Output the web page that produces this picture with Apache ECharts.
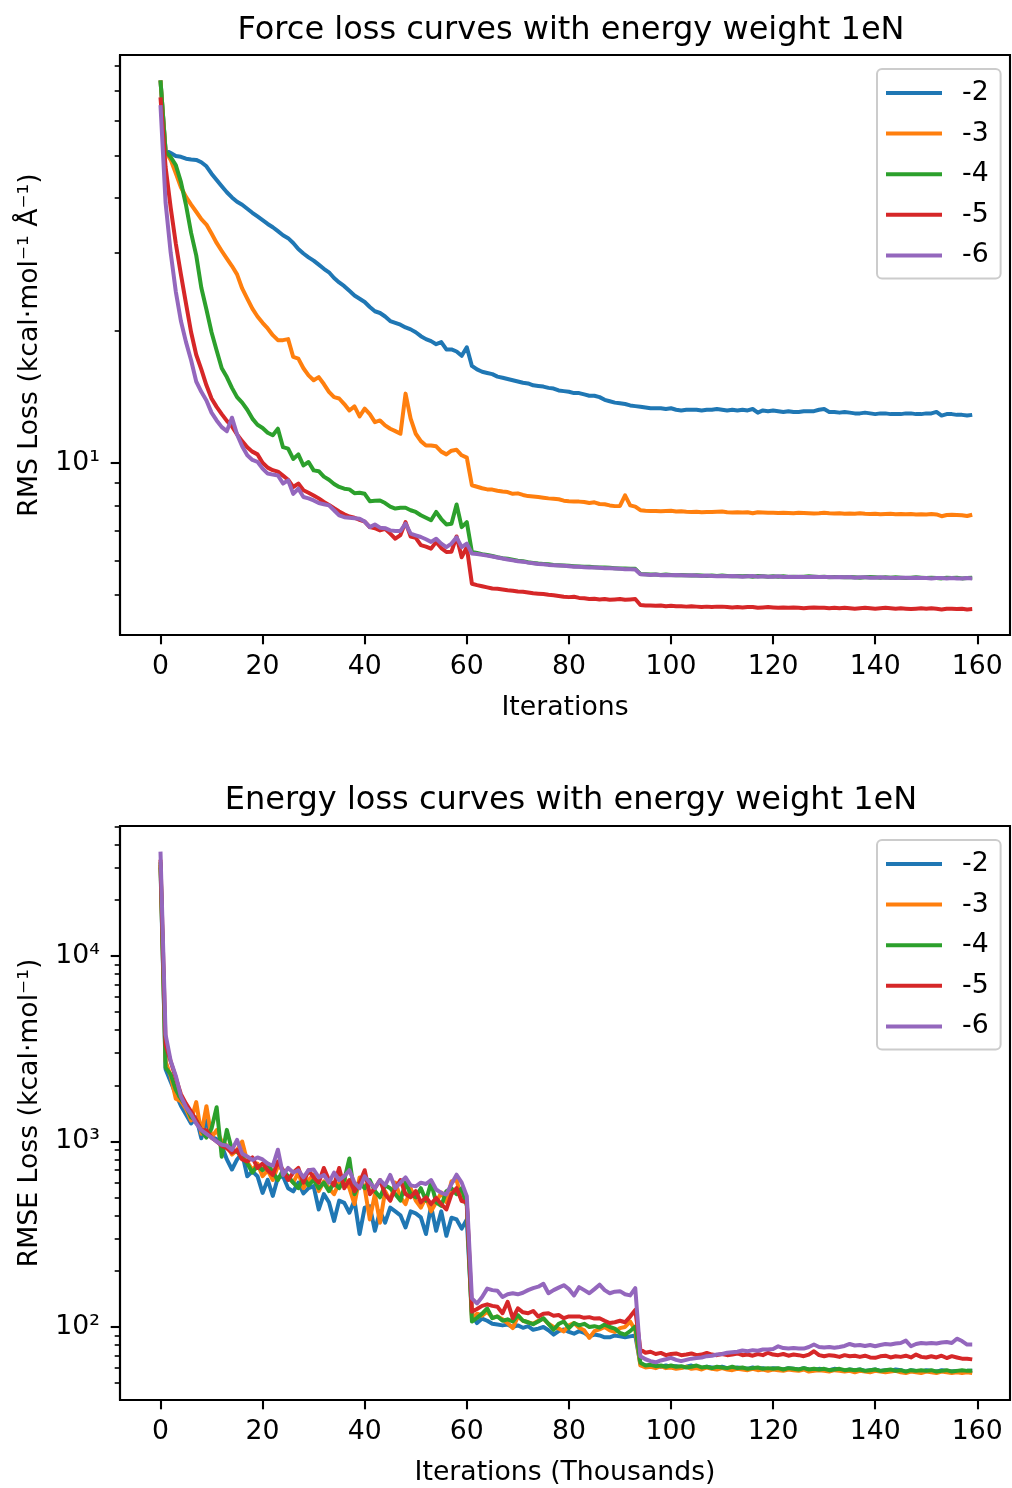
<!DOCTYPE html>
<html>
<head>
<meta charset="utf-8">
<title>Loss curves</title>
<script src="https://cdn.jsdelivr.net/npm/echarts@6.0.0/dist/echarts.min.js"></script>
<style>
  html, body { margin: 0; padding: 0; background: #fff; }
  #chart { width: 1012px; height: 1488px; }
</style>
</head>
<body>
<div id="chart"></div>
<script>
// series names (energy weight exponent) and matplotlib tab10 colours
const seriesNames = ['-2', '-3', '-4', '-5', '-6'];
const colors = ['#1f77b4', '#ff7f0e', '#2ca02c', '#d62728', '#9467bd'];

// x axis ticks (iterations)
const xTicks = [0, 20, 40, 60, 80, 100, 120, 140, 160];

// y axis ticks
const forceMajorTicks = [10];
const forceMinorTicks = [5, 6, 7, 8, 9, 20, 30, 40, 50, 60, 70, 80];
const energyMajorTicks = [100, 1000, 10000];
const energyMinorTicks = [50, 60, 70, 80, 90, 200, 300, 400, 500, 600, 700, 800, 900,
  2000, 3000, 4000, 5000, 6000, 7000, 8000, 9000, 20000, 30000, 40000, 50000];

// ---- force loss (RMS), one value per iteration 0..159 ----
const forceM2 = [
  74.0, 51.3, 50.6, 49.8, 49.6, 49.1, 48.9, 48.8, 48.2, 47.2,
  45.4, 43.9, 42.5, 41.2, 40.1, 39.2, 38.6, 37.8, 37.0, 36.3,
  35.6, 34.9, 34.3, 33.6, 32.9, 32.4, 31.6, 30.6, 29.9, 29.3,
  28.8, 28.2, 27.6, 27.1, 26.3, 25.7, 25.2, 24.6, 24.0, 23.6,
  23.2, 22.6, 22.1, 21.9, 21.5, 21.0, 20.8, 20.6, 20.3, 20.1,
  19.8, 19.4, 19.1, 18.9, 18.6, 18.8, 18.1, 18.1, 17.9, 17.5,
  18.3, 16.6, 16.3, 16.1, 16.0, 15.9, 15.7, 15.6, 15.5, 15.4,
  15.3, 15.2, 15.15, 15.0, 14.95, 14.9, 14.8, 14.75, 14.6, 14.55,
  14.5, 14.4, 14.4, 14.3, 14.2, 14.2, 14.1, 13.9, 13.8, 13.7,
  13.65, 13.6, 13.5, 13.45, 13.4, 13.35, 13.3, 13.3, 13.3, 13.25,
  13.3, 13.2, 13.15, 13.2, 13.2, 13.2, 13.15, 13.2, 13.2, 13.25,
  13.2, 13.15, 13.2, 13.15, 13.2, 13.15, 13.25, 13.0, 13.15, 13.1,
  13.15, 13.1, 13.05, 13.1, 13.05, 13.05, 13.1, 13.1, 13.1, 13.2,
  13.25, 13.05, 13.05, 13.0, 13.05, 13.0, 12.95, 12.95, 13.0, 12.95,
  12.9, 12.95, 12.95, 12.9, 12.9, 12.9, 12.95, 12.95, 12.9, 12.9,
  12.95, 12.95, 13.05, 12.8, 12.9, 12.9, 12.85, 12.85, 12.8, 12.85
];
const forceM3 = [
  74.0, 51.0, 48.8, 45.5, 42.3, 40.2, 38.6, 37.2, 35.8, 34.8,
  33.2, 31.6, 30.3, 29.1, 28.0, 26.8, 24.9, 23.6, 22.4, 21.5,
  20.8, 20.2, 19.5, 19.0, 19.0, 19.1, 17.4, 17.25, 16.4, 15.8,
  15.4, 15.66, 15.1, 14.5, 14.1, 14.0, 13.6, 13.15, 13.43, 12.75,
  13.27, 12.9, 12.37, 12.48, 12.16, 11.95, 11.8, 11.64, 14.36, 12.6,
  11.64, 11.2, 10.95, 10.95, 10.9, 10.6, 10.45, 10.65, 10.7, 10.4,
  10.27, 8.89, 8.82, 8.75, 8.7, 8.69, 8.64, 8.6, 8.58, 8.5,
  8.52, 8.45, 8.4, 8.38, 8.36, 8.33, 8.3, 8.28, 8.26, 8.2,
  8.18, 8.17, 8.16, 8.14, 8.1, 8.13, 8.06, 8.05, 8.0, 7.97,
  7.98, 8.43, 8.0, 7.95, 7.8, 7.78, 7.77, 7.77, 7.76, 7.77,
  7.78, 7.75, 7.76, 7.74, 7.73, 7.74, 7.72, 7.73, 7.73, 7.74,
  7.75, 7.72, 7.71, 7.72, 7.71, 7.72, 7.68, 7.72, 7.71, 7.7,
  7.7, 7.69, 7.7, 7.69, 7.68, 7.7, 7.69, 7.68, 7.67, 7.68,
  7.7, 7.68, 7.67, 7.68, 7.66, 7.67, 7.66, 7.68, 7.66, 7.65,
  7.66, 7.64, 7.65, 7.66, 7.64, 7.65, 7.64, 7.65, 7.63, 7.64,
  7.63, 7.65, 7.63, 7.56, 7.61, 7.62, 7.61, 7.6, 7.57, 7.62
];
const forceM4 = [
  74.0, 51.0, 49.5, 47.5, 43.5, 38.5, 33.3, 29.6, 25.0, 22.3,
  19.8, 18.0, 16.4, 15.66, 14.8, 14.1, 13.7, 13.2, 12.6, 12.2,
  12.0, 11.7, 11.55, 11.95, 10.85, 10.77, 10.2, 10.45, 9.86, 10.04,
  9.61, 9.57, 9.3, 9.15, 8.95, 8.81, 8.73, 8.7, 8.53, 8.55,
  8.5, 8.18, 8.2, 8.21, 8.1, 7.95, 7.87, 7.9, 7.9, 7.8,
  7.73, 7.6, 7.5, 7.4, 7.73, 7.45, 7.24, 7.27, 8.04, 7.14,
  7.33, 6.27, 6.24, 6.2, 6.17, 6.14, 6.1, 6.07, 6.05, 6.02,
  5.99, 5.97, 5.94, 5.92, 5.9, 5.89, 5.88, 5.86, 5.85, 5.84,
  5.83, 5.82, 5.81, 5.8, 5.8, 5.79, 5.78, 5.78, 5.77, 5.76,
  5.75, 5.75, 5.74, 5.74, 5.59, 5.58, 5.57, 5.57, 5.56, 5.57,
  5.56, 5.55, 5.56, 5.55, 5.54, 5.55, 5.54, 5.53, 5.54, 5.53,
  5.54, 5.53, 5.52, 5.53, 5.52, 5.53, 5.51, 5.53, 5.52, 5.51,
  5.52, 5.51, 5.52, 5.5, 5.51, 5.5, 5.51, 5.52, 5.51, 5.5,
  5.51, 5.49, 5.5, 5.5, 5.49, 5.5, 5.49, 5.48, 5.49, 5.5,
  5.49, 5.48, 5.49, 5.48, 5.49, 5.48, 5.47, 5.48, 5.49, 5.48,
  5.47, 5.48, 5.47, 5.46, 5.48, 5.47, 5.48, 5.46, 5.47, 5.48
];
const forceM5 = [
  67.7, 47.0, 38.0, 31.5, 26.8, 23.0, 19.8, 17.6, 16.3, 15.0,
  14.0, 13.4, 12.9, 12.45, 12.1, 11.6, 11.2, 10.85, 10.6, 10.45,
  10.0, 9.75, 9.62, 9.55, 9.35, 9.15, 8.81, 8.97, 8.66, 8.55,
  8.43, 8.3, 8.15, 8.02, 7.88, 7.75, 7.64, 7.55, 7.5, 7.42,
  7.35, 7.14, 7.1, 7.02, 7.08, 6.9, 6.72, 6.85, 7.33, 6.8,
  6.75, 6.5, 6.45, 6.38, 6.61, 6.4, 6.27, 6.28, 6.8, 6.1,
  6.43, 5.31, 5.27, 5.24, 5.21, 5.18, 5.17, 5.15, 5.13, 5.12,
  5.1, 5.09, 5.07, 5.05, 5.04, 5.03, 5.01, 5.0, 4.98, 4.96,
  4.95, 4.96, 4.93, 4.92, 4.9, 4.91, 4.89, 4.9, 4.88, 4.89,
  4.9, 4.88, 4.89, 4.9, 4.75, 4.74, 4.74, 4.73, 4.74, 4.72,
  4.73, 4.72, 4.72, 4.71, 4.72, 4.71, 4.7, 4.71, 4.7, 4.71,
  4.71, 4.7, 4.69, 4.7, 4.69, 4.7, 4.7, 4.68, 4.69, 4.7,
  4.69, 4.68, 4.69, 4.68, 4.69, 4.68, 4.67, 4.68, 4.69, 4.68,
  4.68, 4.67, 4.68, 4.67, 4.68, 4.67, 4.66, 4.67, 4.68, 4.67,
  4.66, 4.67, 4.68, 4.67, 4.66, 4.67, 4.66, 4.65, 4.66, 4.67,
  4.66, 4.67, 4.66, 4.64, 4.66, 4.66, 4.65, 4.66, 4.64, 4.65
];
const forceM6 = [
  65.0, 39.0, 30.0, 24.5, 21.0, 18.8, 17.1, 15.3, 14.5, 13.86,
  13.0, 12.48, 12.05, 11.8, 12.66, 11.6, 10.9, 10.4, 10.15, 10.05,
  9.7, 9.45, 9.4, 9.36, 8.97, 9.12, 8.5, 8.73, 8.36, 8.3,
  8.21, 8.1, 8.05, 8.0, 7.8, 7.59, 7.52, 7.5, 7.48, 7.46,
  7.35, 7.14, 7.24, 7.12, 7.1, 7.02, 7.0, 7.0, 7.27, 6.9,
  6.84, 6.78, 6.7, 6.61, 6.72, 6.55, 6.43, 6.55, 6.77, 6.43,
  6.55, 6.22, 6.2, 6.18, 6.15, 6.12, 6.09, 6.06, 6.03, 6.0,
  5.97, 5.96, 5.93, 5.91, 5.89, 5.88, 5.86, 5.85, 5.84, 5.83,
  5.82, 5.8, 5.8, 5.79, 5.78, 5.78, 5.77, 5.76, 5.76, 5.75,
  5.74, 5.73, 5.73, 5.72, 5.58, 5.57, 5.56, 5.57, 5.55, 5.56,
  5.55, 5.56, 5.55, 5.54, 5.55, 5.54, 5.53, 5.54, 5.53, 5.52,
  5.53, 5.52, 5.53, 5.52, 5.51, 5.52, 5.53, 5.51, 5.52, 5.51,
  5.51, 5.52, 5.5, 5.51, 5.5, 5.51, 5.5, 5.5, 5.51, 5.5,
  5.5, 5.5, 5.49, 5.5, 5.49, 5.5, 5.48, 5.49, 5.49, 5.48,
  5.48, 5.49, 5.48, 5.48, 5.47, 5.48, 5.48, 5.47, 5.48, 5.47,
  5.47, 5.46, 5.47, 5.47, 5.46, 5.47, 5.46, 5.46, 5.47, 5.46
];

// ---- energy loss (RMSE), one value per thousand iterations 0..159 ----
const energyM2 = [
  30000, 2450, 2100, 1800, 1560, 1400, 1250, 1350, 1040, 1300,
  1060, 1030, 950, 800, 706, 800, 863, 649, 690, 650,
  528, 622, 509, 640, 649, 560, 538, 600, 525, 560,
  575, 430, 520, 470, 373, 480, 467, 413, 480, 317,
  440, 448, 330, 420, 365, 440, 420, 400, 344, 420,
  410, 390, 317, 448, 330, 420, 310, 388, 380, 339,
  380, 116, 105, 111, 108, 104, 103, 102, 103, 100,
  102, 99, 101, 96.6, 98, 100, 96, 91, 95, 97,
  94, 92, 95, 93, 89, 91, 90, 88, 88, 90,
  89, 88, 89, 90, 63, 62, 61.5, 62.5, 61, 62,
  61, 61.5, 60.5, 61, 62, 60.5, 60, 61, 60.5, 60,
  61, 60, 59.5, 60.5, 60, 59.5, 60.5, 59.5, 60, 59,
  60, 59.5, 59, 60, 59.5, 59, 60, 59, 58.5, 59.5,
  59, 58.5, 59.5, 59, 58, 59, 58.5, 59, 58, 58.5,
  59, 58, 58.5, 58, 59, 58.5, 57.5, 58.5, 58, 57.5,
  58.5, 58, 57.5, 58.5, 58, 57.5, 58, 57.5, 58, 58
];
const energyM3 = [
  31000, 2700, 2250, 1700, 1650, 1500, 1300, 1630, 1100, 1550,
  1050, 1150, 1000, 950, 850, 900, 1000, 780, 700, 760,
  650, 700, 620, 740, 700, 640, 600, 680, 560, 620,
  660, 540, 610, 560, 520, 600, 640, 560, 460, 640,
  560, 380, 520, 365, 540, 480, 600, 500, 460, 560,
  480, 440, 500, 420, 470, 530, 470, 609, 622, 480,
  470, 111.5, 118, 115, 121, 112, 114, 110, 105, 98.6,
  113.8, 108, 106, 104, 108, 111, 104, 100, 98, 94.6,
  102, 105, 99, 96, 87.3, 95, 97, 100, 96, 94,
  98.6, 100, 107, 96, 62, 60.5, 61, 60, 61.5, 60,
  60.5, 59.5, 60, 61, 59.5, 60, 59, 60.5, 59.5, 59,
  60, 59, 58.5, 59.5, 59, 58.5, 59.5, 58.5, 59, 58,
  59, 58.5, 58, 59, 58.5, 58, 59, 57.5, 58, 58.5,
  58, 57.5, 58.5, 58, 57.5, 58, 57, 58, 57.5, 57,
  58, 57.5, 57, 57.5, 58, 57, 56.5, 57.5, 57, 56.5,
  57.5, 57, 56.5, 57.5, 57, 56.5, 57, 56.5, 57, 56.5
];
const energyM4 = [
  32000, 2500, 2300, 1900, 1700, 1550, 1350, 1300, 1150, 1050,
  1173, 1530, 828, 1155, 900, 880, 820, 760, 680, 740,
  700, 760, 680, 620, 700, 650, 600, 560, 640, 580,
  620, 560, 600, 540, 600, 560, 620, 810, 520, 600,
  560, 620, 540, 500, 580, 560, 520, 480, 600, 520,
  500, 560, 480, 600, 470, 450, 540, 560, 520, 560,
  450, 107, 112, 118, 126, 111.5, 114, 108, 110, 107,
  116, 108, 106, 103.6, 107, 111.5, 104, 96.6, 104, 107,
  98.6, 105, 102, 104, 100, 101, 99.4, 103, 100, 98,
  92.8, 91, 95, 100.6, 64.2, 62, 62.5, 61.5, 62, 61,
  62, 61, 61.5, 60.5, 61, 62, 60.5, 61, 60, 61,
  60.5, 60, 61, 60, 60.5, 59.5, 60, 60.5, 59.5, 60,
  59.5, 60, 59, 60, 59.5, 59, 60, 59, 59.5, 59,
  59.5, 58.5, 59, 59.5, 58.5, 59, 58.5, 59, 58, 58.5,
  59, 58, 58.5, 59, 58, 58.5, 57.5, 58.5, 58, 58.5,
  58, 58.5, 57.5, 58, 58.5, 57.5, 58, 58.5, 58, 58
];
const energyM5 = [
  33000, 3330, 2700, 2200, 1800, 1600, 1450, 1300, 1150, 1150,
  1050, 1000, 950, 920, 870, 900, 800, 780, 820, 720,
  760, 700, 660, 780, 700, 620, 680, 720, 600, 700,
  640, 600, 720, 620, 580, 720, 560, 620, 540, 600,
  700, 520, 560, 620, 520, 480, 560, 620, 520, 500,
  540, 470, 500, 460, 496, 460, 430, 520, 561, 477,
  470, 121, 125, 130, 132.5, 130, 128.6, 118.6, 136.7, 111.5,
  126, 120, 118.6, 122, 113.8, 118, 118.6, 115, 116, 111.5,
  114, 113.8, 114, 112, 113, 111, 111.5, 108, 105, 106,
  108, 106, 113.8, 123.5, 75.6, 72.6, 73.5, 71.5, 72.5, 70.5,
  71.5, 72, 70.5, 71, 72, 70.5, 71, 72.5, 71, 70.5,
  71.5, 70.5, 71, 72, 70.5, 71, 70, 71.5, 70.5, 72.6,
  71, 70.5, 71.5, 70, 71, 70.5, 69.6, 71, 74, 70.5,
  69.5, 70.5, 70, 69, 70.5, 69.5, 70, 69, 70, 68.5,
  68.2, 69.5, 70, 68.5, 69.5, 69, 70, 68.5, 71, 69,
  68.5, 69.5, 68.5, 70, 68, 69.6, 68.5, 67.5, 67.5, 66.9
];
const energyM6 = [
  36500, 3770, 2720, 2260, 1750, 1530, 1400, 1250, 1150, 1100,
  1050, 1000, 960, 950, 900, 1020, 860, 830, 795, 820,
  800, 760, 740, 903, 660, 720, 680, 700, 640, 700,
  706, 640, 660, 600, 680, 620, 650, 700, 600, 560,
  648, 600, 560, 620, 580, 660, 560, 600, 640, 580,
  573, 600, 590, 620, 551, 528, 518, 590, 662, 600,
  507, 142.6, 134, 145, 161, 158, 157, 145, 150, 152,
  150, 153, 158, 162, 165, 171, 152, 158, 163, 168,
  160, 148, 164, 158, 152, 160, 169, 158, 152, 155,
  156, 150, 148, 162, 69.6, 67, 65.5, 64.5, 66, 67,
  68.2, 66.5, 65.5, 66.5, 67.5, 68, 68.5, 69.6, 70, 71,
  71.5, 72.6, 73, 73.5, 74.7, 74, 75, 74.5, 75.6, 75.6,
  76, 78.7, 77, 76.5, 77, 76.5, 76.5, 78, 80.4, 78,
  77.5, 78, 77.2, 78, 79, 81, 79.5, 80, 79, 80,
  78.7, 80, 81, 80.5, 81.5, 82, 84.4, 78.7, 81, 82,
  81.5, 82, 81.5, 82.5, 83, 82, 86.5, 84, 80.4, 80.4
];

const forceData = [forceM2, forceM3, forceM4, forceM5, forceM6];
const energyData = [energyM2, energyM3, energyM4, energyM5, energyM6];

const FONT = 'DejaVu Sans';
const FS = 26.7;
const SUP = { '0': '⁰', '1': '¹', '2': '²', '3': '³', '4': '⁴', '5': '⁵' };
const X_MIN = -7.93, X_MAX = 166.4;

const chart = echarts.init(document.getElementById('chart'), null, { renderer: 'canvas' });

const powLabel = v => '10' + SUP[String(Math.round(Math.log10(v)))];

const grids = [
  { left: 120, top: 55, width: 890, height: 580 },
  { left: 120, top: 826, width: 890, height: 580 }
].map(g => Object.assign(g, { show: true, borderColor: '#000', borderWidth: 2.1, backgroundColor: 'transparent' }));

const xAxisFor = (gridIndex, name) => ({
  type: 'value', gridIndex, min: X_MIN, max: X_MAX,
  name, nameLocation: 'middle', nameGap: 60,
  nameTextStyle: { fontFamily: FONT, fontSize: FS, color: '#000' },
  axisLine: { show: true, onZero: false, lineStyle: { color: '#000', width: 2.1 } },
  axisTick: { show: true, length: 9.3, lineStyle: { color: '#000', width: 2.1 }, customValues: xTicks },
  axisLabel: { fontFamily: FONT, fontSize: FS, color: '#000', margin: 18.5, customValues: xTicks },
  splitLine: { show: false }
});

const yMajorFor = (gridIndex, name, min, max, ticks) => ({
  type: 'log', logBase: 10, gridIndex, position: 'left', min, max,
  name, nameLocation: 'middle', nameGap: 76, nameRotate: 90,
  nameTextStyle: { fontFamily: FONT, fontSize: FS, color: '#000' },
  axisLine: { show: true, onZero: false, lineStyle: { color: '#000', width: 2.1 } },
  axisTick: { show: true, length: 9.3, lineStyle: { color: '#000', width: 2.1 }, customValues: ticks },
  axisLabel: { fontFamily: FONT, fontSize: FS, color: '#000', margin: 20, customValues: ticks, formatter: powLabel },
  splitLine: { show: false }
});

const yMinorFor = (gridIndex, min, max, ticks) => ({
  type: 'log', logBase: 10, gridIndex, position: 'left', min, max,
  axisLine: { show: false, onZero: false },
  axisTick: { show: true, length: 5.3, lineStyle: { color: '#000', width: 1.6 }, customValues: ticks },
  axisLabel: { show: false },
  splitLine: { show: false }
});

const legendFor = top => ({
  data: seriesNames, orient: 'vertical', left: 877, top,
  selectedMode: false, icon: 'rect', itemWidth: 56, itemHeight: 4, itemGap: 13.6,
  padding: [10.5, 12, 9.5, 9],
  backgroundColor: 'rgba(255,255,255,0.8)', borderColor: '#cccccc', borderWidth: 2, borderRadius: 5,
  textStyle: { fontFamily: FONT, fontSize: FS, color: '#000', padding: [0, 0, 0, 15] }
});

const titleFor = (text, top) => ({
  text, left: 566, top, textAlign: 'center',
  textStyle: { fontFamily: FONT, fontSize: 32, fontWeight: 'normal', color: '#000' }
});

const series = [];
forceData.forEach((arr, k) => {
  series.push({
    name: seriesNames[k], type: 'line', xAxisIndex: 0, yAxisIndex: 0,
    data: arr.map((v, i) => [i, v]),
    showSymbol: false, symbol: 'none', color: colors[k],
    lineStyle: { width: 4, color: colors[k], join: 'round' }
  });
});
energyData.forEach((arr, k) => {
  series.push({
    name: seriesNames[k], type: 'line', xAxisIndex: 1, yAxisIndex: 2,
    data: arr.map((v, i) => [i, v]),
    showSymbol: false, symbol: 'none', color: colors[k],
    lineStyle: { width: 4, color: colors[k], join: 'round' }
  });
});

const option = {
  animation: false,
  backgroundColor: '#fff',
  color: colors,
  title: [
    titleFor('Force loss curves with energy weight 1eN', 10),
    titleFor('Energy loss curves with energy weight 1eN', 780)
  ],
  legend: [legendFor(69), legendFor(840)],
  grid: grids,
  xAxis: [xAxisFor(0, 'Iterations'), xAxisFor(1, 'Iterations (Thousands)')],
  yAxis: [
    yMajorFor(0, 'RMS Loss (kcal·mol⁻¹ Å⁻¹)', 4.06, 84.5, forceMajorTicks),
    yMinorFor(0, 4.06, 84.5, forceMinorTicks),
    yMajorFor(1, 'RMSE Loss (kcal·mol⁻¹)', 40.4, 50200, energyMajorTicks),
    yMinorFor(1, 40.4, 50200, energyMinorTicks)
  ],
  series
};

chart.setOption(option);
</script>
</body>
</html>
